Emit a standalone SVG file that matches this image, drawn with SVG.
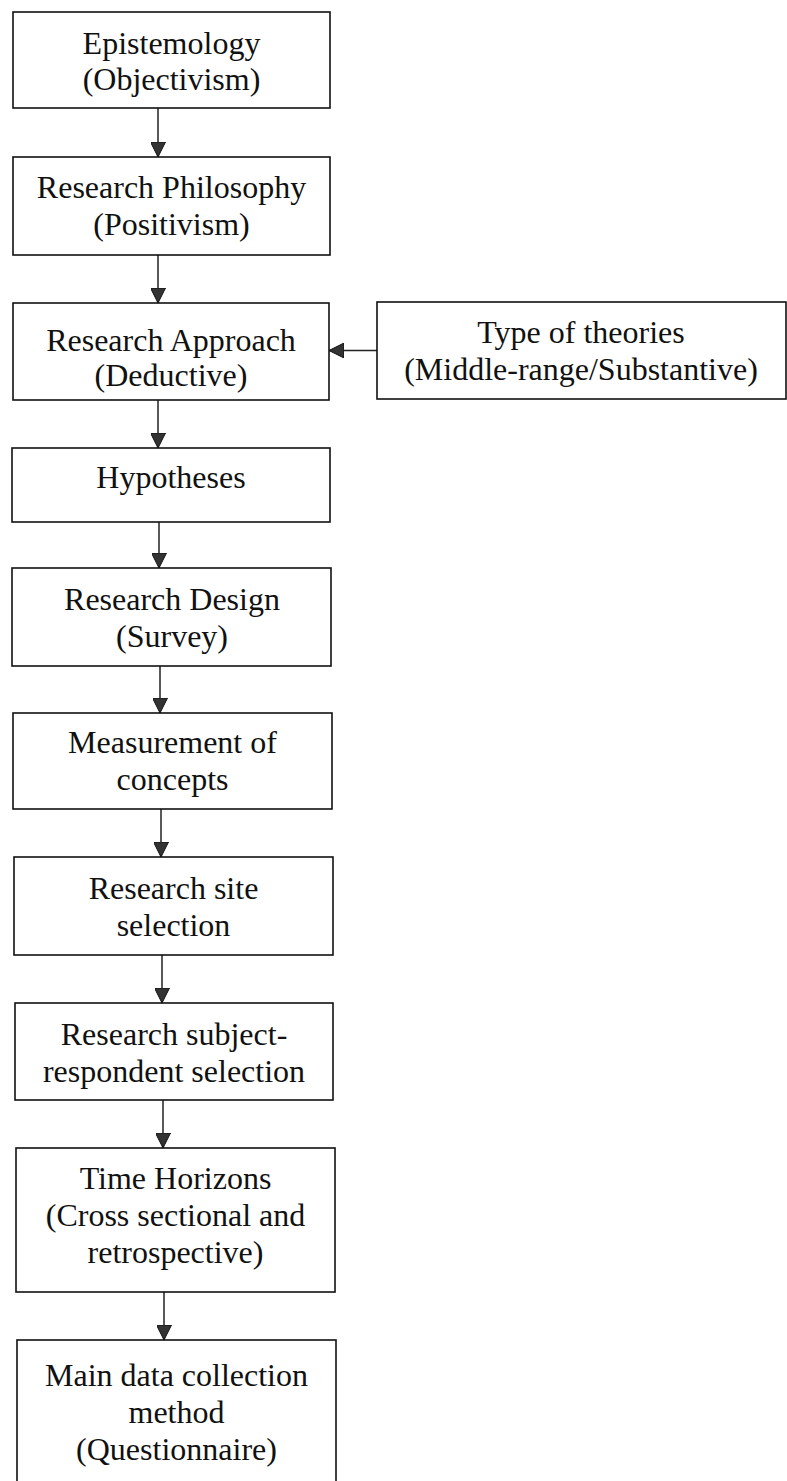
<svg xmlns="http://www.w3.org/2000/svg" width="787" height="1481" viewBox="0 0 787 1481">
<style>
.box{fill:#fff;stroke:#111;stroke-width:1.6}
.t{font-family:"Liberation Serif","Times New Roman",serif;font-size:32px;fill:#111;text-anchor:middle}
.c{stroke:#222;stroke-width:1.5;fill:none;marker-end:url(#ah)}
</style>
<defs>
<marker id="ah" markerUnits="userSpaceOnUse" markerWidth="15" markerHeight="15" refX="15" refY="7.5" orient="auto" viewBox="0 0 15 15">
<path d="M0,0 L15,7.5 L0,15 z" fill="#333" stroke="#111" stroke-width="1"/>
</marker>
</defs>
<rect width="787" height="1481" fill="#fff"/>
<g id="connectors">
<line class="c" x1="158" y1="108" x2="158" y2="157"/>
<line class="c" x1="158" y1="255" x2="158" y2="303"/>
<line class="c" x1="377" y1="350.5" x2="329" y2="350.5"/>
<line class="c" x1="158" y1="400" x2="158" y2="448"/>
<line class="c" x1="159" y1="522" x2="159" y2="568"/>
<line class="c" x1="160" y1="666" x2="160" y2="713"/>
<line class="c" x1="161" y1="809" x2="161" y2="857"/>
<line class="c" x1="162" y1="955" x2="162" y2="1003"/>
<line class="c" x1="163" y1="1100" x2="163" y2="1148"/>
<line class="c" x1="164" y1="1292" x2="164" y2="1340"/>
</g>
<g id="n1"><rect class="box" x="13" y="12" width="317" height="96"/>
<text class="t" x="171.5" y="54">Epistemology</text><text class="t" x="171.5" y="90">(Objectivism)</text></g>
<g id="n2"><rect class="box" x="13" y="157" width="317" height="98"/>
<text class="t" x="171.5" y="198">Research Philosophy</text><text class="t" x="171.5" y="235">(Positivism)</text></g>
<g id="n3"><rect class="box" x="13" y="303" width="316" height="97"/>
<text class="t" x="171" y="351">Research Approach</text><text class="t" x="171" y="386">(Deductive)</text></g>
<g id="n4"><rect class="box" x="377" y="302" width="409" height="97"/>
<text class="t" x="581" y="343">Type of theories</text><text class="t" x="581" y="380">(Middle-range/Substantive)</text></g>
<g id="n5"><rect class="box" x="12" y="448" width="318" height="74"/>
<text class="t" x="171" y="488">Hypotheses</text></g>
<g id="n6"><rect class="box" x="12" y="568" width="319" height="98"/>
<text class="t" x="172" y="610">Research Design</text><text class="t" x="172" y="647">(Survey)</text></g>
<g id="n7"><rect class="box" x="13" y="713" width="319" height="96"/>
<text class="t" x="172.5" y="753">Measurement of</text><text class="t" x="172.5" y="790">concepts</text></g>
<g id="n8"><rect class="box" x="14" y="857" width="319" height="98"/>
<text class="t" x="173.5" y="899">Research site</text><text class="t" x="173.5" y="936">selection</text></g>
<g id="n9"><rect class="box" x="15" y="1003" width="318" height="97"/>
<text class="t" x="174" y="1045">Research subject-</text><text class="t" x="174" y="1082">respondent selection</text></g>
<g id="n10"><rect class="box" x="16" y="1148" width="319" height="144"/>
<text class="t" x="175.5" y="1189">Time Horizons</text><text class="t" x="175.5" y="1226">(Cross sectional and</text><text class="t" x="175.5" y="1263">retrospective)</text></g>
<g id="n11"><rect class="box" x="17" y="1340" width="319" height="160"/>
<text class="t" x="176.5" y="1386">Main data collection</text><text class="t" x="176.5" y="1423">method</text><text class="t" x="176.5" y="1460">(Questionnaire)</text></g>
</svg>
